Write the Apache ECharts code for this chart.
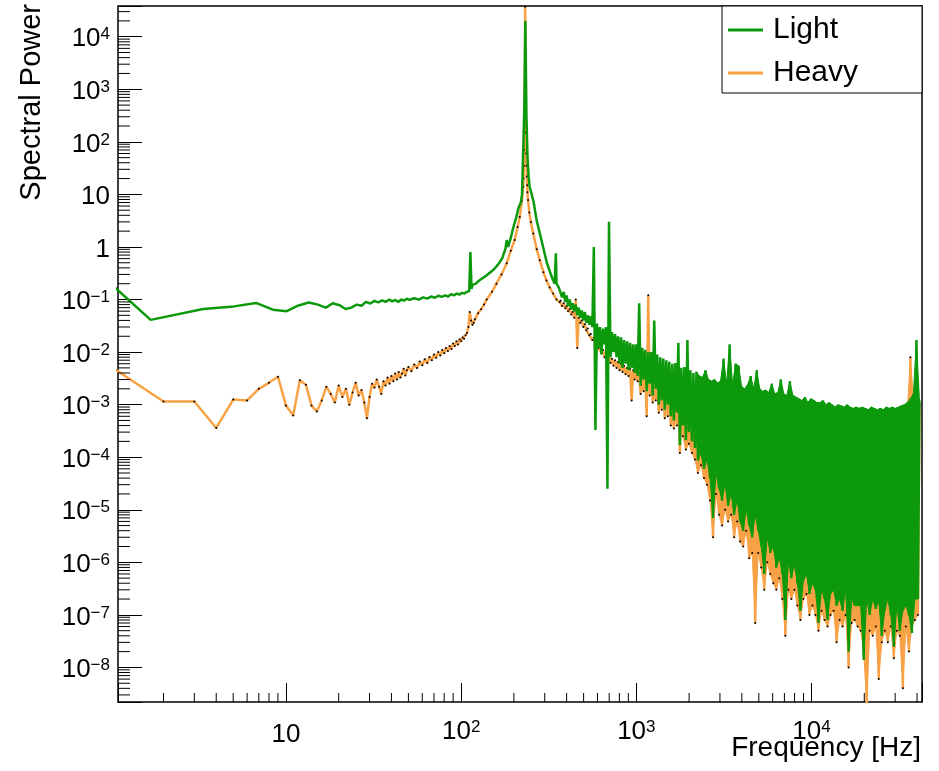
<!DOCTYPE html>
<html><head><meta charset="utf-8">
<script src="https://cdn.jsdelivr.net/npm/echarts@6.0.0/dist/echarts.min.js"></script>
<style>html,body{margin:0;padding:0;background:#fff}#c{width:939px;height:771px}</style>
</head><body><div id="c"></div>
<script>
// ---------------- data ----------------
const xRange = [1.1, 42700];
const yRange = [2.2e-9, 3.84e4];

const lightLowFreq = [1.0, 1.69, 3.37, 5.06, 6.74, 8.43, 10.1, 11.8, 13.5, 15.2, 16.9, 18.5, 20.2, 21.9, 23.6, 25.3, 27.0, 28.6, 30.3, 32.0, 33.7, 35.4, 37.1, 38.8, 40.4, 42.1, 43.8, 45.5, 47.2, 48.9, 50.6, 53.9, 57.3, 60.7, 64.0, 67.4, 70.8, 74.1, 77.5, 80.9, 84.2, 87.6, 91.0, 94.4, 97.7, 101.1, 104.5, 107.8, 111.2, 112.9, 114.6, 116.3, 118.0, 121.3, 124.7, 131.4, 138.2, 145.0, 151.7, 158.5, 165.2, 172.0, 175.3, 178.7, 182.0, 185.4, 192.1, 198.9, 205.6, 212.4, 219.1, 222.5, 225.8, 229.2, 232.6, 235.9, 239.3, 242.7, 246.0, 252.8, 259.5, 269.6, 281.4, 291.5, 308.4, 325.2, 335.3, 342.1, 347.1, 350.4, 360.5];
const lightLowPow = [0.2, 0.041, 0.066, 0.074, 0.086, 0.064, 0.06, 0.077, 0.088, 0.08, 0.07, 0.085, 0.078, 0.066, 0.07, 0.08, 0.076, 0.09, 0.084, 0.094, 0.088, 0.096, 0.09, 0.1, 0.092, 0.098, 0.09, 0.1, 0.095, 0.104, 0.098, 0.106, 0.1, 0.11, 0.104, 0.114, 0.108, 0.118, 0.112, 0.12, 0.114, 0.126, 0.12, 0.13, 0.124, 0.134, 0.13, 0.14, 0.145, 0.8, 0.16, 0.19, 0.2, 0.2, 0.22, 0.25, 0.28, 0.32, 0.36, 0.42, 0.5, 0.62, 0.76, 0.9, 1.35, 1.0, 1.5, 2.4, 3.5, 5.5, 7, 10, 60, 400, 2e4, 300, 50, 22, 14, 10, 7, 3.2, 1.8, 1.1, 0.5, 0.3, 0.23, 0.2, 0.76, 0.2, 0.17];

const heavyLowFreq = [1, 2, 3, 4, 5, 6, 7, 8, 9, 10, 11, 12, 13, 14, 15, 16, 17, 18, 19, 20, 21, 22, 23, 24, 25, 26, 27, 28, 29, 30, 31, 32, 33, 34, 35, 36, 37, 38, 39, 40, 41, 42, 43, 44, 45, 46, 47, 48, 49, 50,
  52, 54, 56, 58, 60, 62, 64, 66, 68, 70, 72, 74, 76, 78, 80, 82, 84, 86, 88, 90, 92, 94, 96, 98, 100, 102, 104, 106, 108, 110,
  112, 114, 116, 118, 120, 125, 130, 135, 140, 150, 159, 170, 182, 192, 202, 210, 216, 222, 226, 227, 228, 229, 230, 231, 232, 233, 234, 235, 236, 237, 238, 239, 241, 245, 250, 258, 270, 281, 295, 307, 320, 335, 350, 365];
const heavyLowPow = [5.3e-3, 1.15e-3, 1.15e-3, 3.6e-4, 1.25e-3, 1.2e-3, 2.0e-3, 2.6e-3, 3.4e-3, 9.6e-4,
  6.2e-4, 2.9e-3, 2.4e-3, 9.6e-4, 7.4e-4, 1.2e-3, 2.2e-3, 1.6e-3, 1.1e-3, 2.3e-3,
  1.4e-3, 2.0e-3, 1.0e-3, 1.7e-3, 2.6e-3, 1.5e-3, 1.9e-3, 1.1e-3, 5.5e-4, 1.4e-3,
  2.5e-3, 2.1e-3, 3.0e-3, 2.2e-3, 1.6e-3, 2.8e-3, 2.3e-3, 3.3e-3, 2.5e-3, 3.5e-3,
  2.8e-3, 3.9e-3, 3.0e-3, 4.2e-3, 3.3e-3, 3.9e-3, 4.8e-3, 3.6e-3, 4.5e-3, 5.2e-3,
  4.3e-3, 5.8e-3, 5.0e-3, 6.6e-3, 5.6e-3, 7.3e-3, 6.2e-3, 8.1e-3, 7.0e-3, 9.0e-3, 7.8e-3, 1.0e-2, 8.6e-3, 1.1e-2, 9.5e-3, 1.2e-2, 1.05e-2, 1.3e-2, 1.15e-2, 1.45e-2, 1.3e-2, 1.6e-2, 1.4e-2, 1.75e-2, 1.6e-2, 1.9e-2, 1.8e-2, 2.1e-2, 2.3e-2, 3.0e-2,
  5.8e-2, 4.0e-2, 3.3e-2, 3.6e-2, 4.2e-2, 5.5e-2, 6.5e-2, 8.0e-2, 0.1, 0.14, 0.2, 0.3, 0.49, 0.85, 1.35, 2.4, 3.7, 7.5, 14, 20, 35, 70, 200, 1500, 3.7e4, 2000, 150, 60, 35, 22, 15, 11, 7.8, 4.5, 3.0, 1.8, 0.9, 0.56, 0.33, 0.23, 0.17, 0.13, 0.1, 0.09];

const hfFreq = [370, 377, 385, 393, 400, 408, 417, 425, 433, 442,
  451, 460, 469, 479, 488, 498, 508, 518, 529, 539,
  550, 561, 572, 584, 596, 608, 620, 632, 645, 658,
  671, 684, 698, 712, 726, 741, 756, 771, 786, 802,
  818, 834, 851, 868, 886, 903, 921, 940, 959, 978,
  997, 1017, 1038, 1058, 1080, 1101, 1123, 1146, 1169, 1192,
  1216, 1240, 1265, 1290, 1316, 1343, 1370, 1397, 1425, 1453,
  1482, 1512, 1542, 1573, 1605, 1637, 1669, 1703, 1737, 1772,
  1807, 1843, 1880, 1918, 1956, 1995, 2035, 2076, 2117, 2160,
  2203, 2247, 2292, 2338, 2385, 2432, 2481, 2530, 2581, 2633,
  2685, 2739, 2794, 2850, 2907, 2965, 3024, 3085, 3146, 3209,
  3273, 3339, 3406, 3474, 3543, 3614, 3686, 3760, 3835, 3912,
  3990, 4070, 4152, 4235, 4319, 4406, 4494, 4584, 4675, 4769,
  4864, 4961, 5061, 5162, 5265, 5370, 5478, 5587, 5699, 5813,
  5929, 6048, 6169, 6292, 6418, 6546, 6677, 6811, 6947, 7086,
  7228, 7372, 7520, 7670, 7823, 7980, 8139, 8302, 8468, 8638,
  8810, 8987, 9166, 9350, 9537, 9727, 9922, 10120, 10323, 10529,
  10740, 10955, 11174, 11397, 11625, 11858, 12095, 12337, 12584, 12835,
  13092, 13354, 13621, 13893, 14171, 14455, 14744, 15039, 15339, 15646,
  15959, 16278, 16604, 16936, 17275, 17620, 17973, 18332, 18699, 19073,
  19454, 19843, 20240, 20645, 21058, 21479, 21909, 22347, 22794, 23250,
  23715, 24189, 24673, 25166, 25670, 26183, 26707, 27241, 27786, 28341,
  28908, 29486, 30076, 30678, 31291, 31917, 32556, 33207, 33871, 34548,
  35239, 35944, 36663, 37396, 38144, 38907, 39685, 40479, 41288];

const lightHFPow = [0.16, 0.11, 0.14, 0.09, 0.12, 0.075, 0.1, 0.065, 0.085, 0.06,
  0.08, 0.05, 0.07, 0.045, 0.062, 0.04, 0.058, 0.036, 0.05, 0.033,
  0.048, 0.03, 1.0, 3.3e-4, 0.035, 0.012, 0.03, 0.009, 0.028, 0.014,
  0.03, 2.5e-5, 3.0, 0.008, 0.024, 0.01, 0.022, 0.008, 0.02, 0.006,
  0.019, 5e-3, 0.017, 6e-3, 0.016, 4.5e-3, 0.015, 5e-3, 0.014, 4e-3,
  0.014, 3.5e-3, 0.085, 2.3e-3, 0.012, 3e-3, 0.011, 1.8e-3, 0.01, 2.5e-3,
  0.01, 1.5e-3, 0.04, 2e-3, 0.009, 1e-3, 0.008, 1.2e-3, 0.0075, 8e-4,
  0.007, 1e-3, 0.0065, 6e-4, 0.006, 5e-4, 0.0062, 7e-4, 0.015, 1.7e-4,
  0.005, 4e-4, 0.0052, 2.1e-4, 0.017, 3e-4, 0.0045, 2e-4, 0.004, 1.5e-4,
  0.0042, 8.7e-5, 0.0035, 1.2e-4, 0.0033, 6e-5, 0.0045, 9e-5, 0.003, 4e-5,
  0.0028, 7e-6, 0.003, 5e-5, 0.0026, 2.5e-5, 0.0028, 1.5e-5, 0.0075, 3e-5,
  0.0025, 1.2e-5, 0.014, 2e-5, 0.0024, 8e-6, 0.006, 1.5e-5, 0.0055, 6e-6,
  0.0022, 4e-6, 0.002, 1e-5, 0.0024, 5e-6, 0.0035, 3e-6, 0.002, 8e-6,
  0.0045, 4e-6, 0.002, 2e-6, 0.0018, 6e-7, 0.0019, 3e-6, 0.0017, 1.5e-6,
  0.0025, 2e-6, 0.0016, 8e-7, 0.0017, 1.2e-6, 0.003, 6e-7, 0.0016, 8e-8,
  0.0015, 1e-6, 0.0028, 5e-7, 0.0015, 9e-7, 0.0014, 4e-7, 0.0013, 1.2e-7,
  0.0012, 4.5e-7, 0.0014, 6e-7, 0.0011, 2.5e-7, 0.0013, 4e-7, 0.0012, 3e-7,
  0.0011, 7e-8, 0.0011, 3e-7, 0.0012, 2e-7, 0.001, 8e-8, 0.0011, 2.5e-7,
  0.001, 3e-7, 0.0009, 1.5e-7, 0.001, 2e-7, 0.00095, 1.2e-7, 0.0009, 3e-7,
  0.001, 2e-8, 0.0009, 2e-7, 0.00085, 1.5e-7, 0.0009, 1.5e-7, 0.00085, 1.5e-7,
  0.0009, 1.4e-8, 0.00085, 2e-7, 0.0008, 1e-7, 0.0009, 2e-7, 0.00085, 1.3e-7,
  0.0008, 1.8e-7, 0.00085, 4e-8, 0.0008, 1.2e-7, 0.0009, 2e-7, 0.00085, 1e-7,
  0.0009, 2.5e-8, 0.00085, 1.5e-7, 0.0009, 5e-8, 0.00095, 1.2e-7, 0.001, 1.5e-7,
  0.0011, 1e-7, 0.0013, 4.5e-8, 0.0016, 2e-7, 0.017, 2e-7, 0.0012];

const heavyHFPow = [0.095, 0.075, 0.085, 0.068, 0.075, 0.06, 0.066, 0.052, 0.058, 0.045,
  0.1, 0.012, 0.045, 0.036, 0.04, 0.03, 0.034, 0.026, 0.028, 0.021,
  0.022, 0.017, 0.019, 0.014, 0.016, 0.012, 0.013, 0.0095, 0.011, 0.008,
  0.0095, 0.007, 0.009, 0.0062, 0.0075, 0.0055, 0.007, 0.005, 0.0065, 0.0045,
  0.006, 0.0042, 0.0055, 0.0038, 0.005, 0.0035, 0.0048, 0.0012, 0.0045, 0.003,
  0.0042, 0.0028, 0.004, 0.0016, 0.0038, 0.0018, 0.0035, 0.0006, 0.12, 0.0015,
  0.0032, 0.0011, 0.003, 0.0012, 0.0028, 0.0007, 0.0026, 0.0008, 0.0024, 0.00055,
  0.0022, 0.0006, 0.002, 0.0004, 0.0019, 0.00035, 0.0018, 0.0004, 0.0017, 0.00012,
  0.0016, 0.00025, 0.0015, 0.00014, 0.0015, 0.00018, 0.0014, 0.00012, 0.0013, 9e-5,
  0.0013, 5e-5, 0.0012, 7e-5, 0.0012, 4e-5, 0.0012, 3e-5, 0.0011, 1.5e-5,
  0.0011, 3e-6, 0.0012, 2e-5, 0.001, 8e-6, 0.0011, 5e-6, 0.001, 1e-5,
  0.0012, 6e-6, 0.001, 8e-6, 0.0011, 3e-6, 0.001, 6e-6, 0.0012, 2.5e-6,
  0.0009, 2e-6, 0.001, 4e-6, 0.0009, 1.2e-6, 0.001, 1.5e-6, 0.0009, 7e-8,
  0.001, 1.5e-6, 0.0008, 8e-7, 0.0009, 3e-7, 0.0008, 1e-6, 0.0009, 6e-7,
  0.0008, 4e-7, 0.0007, 3e-7, 0.0008, 5e-7, 0.0009, 2e-7, 0.0007, 4e-8,
  0.0008, 3e-7, 0.0009, 2e-7, 0.0007, 3e-7, 0.0007, 1.5e-7, 0.0008, 8e-8,
  0.0006, 2e-7, 0.0007, 2.5e-7, 0.0006, 1e-7, 0.0007, 1.5e-7, 0.0006, 1e-7,
  0.0006, 5e-8, 0.0006, 1.2e-7, 0.0007, 8e-8, 0.0005, 6e-8, 0.0006, 1e-7,
  0.0005, 1.2e-7, 0.0006, 3e-8, 0.0005, 8e-8, 0.0005, 6e-8, 0.0006, 1e-7,
  0.0005, 1e-8, 0.0005, 7e-8, 0.0005, 8e-8, 0.0005, 6e-8, 0.0005, 5e-8,
  0.0005, 2e-8, 0.0005, 1.5e-9, 0.0005, 5e-8, 0.0005, 4e-8, 0.0005, 6e-8,
  0.0005, 6e-9, 0.0005, 3e-8, 0.0005, 5e-8, 0.0005, 3e-8, 0.0005, 6e-8,
  0.0005, 1.5e-8, 0.0005, 5e-8, 0.0006, 4e-8, 0.0006, 4e-9, 0.0006, 6e-8,
  0.0008, 2e-8, 0.008, 6e-8, 0.0012, 8e-8, 0.0015, 1e-7, 0.001];

// ---------------- chart ----------------
const GREEN = '#0c990c';
const ORANGE = '#f8a145';
const FONT = '"Liberation Sans", Arial, Helvetica, sans-serif';

function zip(fs, vs) { return fs.map((f, i) => [f, vs[i]]); }
const lightData = zip(lightLowFreq, lightLowPow).concat(zip(hfFreq, lightHFPow));
const heavyData = zip(heavyLowFreq, heavyLowPow).concat(zip(hfFreq, heavyHFPow));

// minor tick positions (2..9 x 10^k)
const xMinor = []; for (let k = 0; k <= 4; k++) for (let m = 2; m <= 9; m++) xMinor.push(m * Math.pow(10, k));
const yMinor = []; for (let k = -9; k <= 4; k++) for (let m = 2; m <= 9; m++) yMinor.push(m * Math.pow(10, k));

function expLabel(n, plainStyle) {
  if (n === 0) return '{' + plainStyle + '|1}';
  if (n === 1) return '{' + plainStyle + '|10}';
  return '{b|10}{s|' + (n < 0 ? '\u2212' + (-n) : String(n)) + '}';
}
const rich = {
  b: { fontSize: 26, fontFamily: FONT, color: '#000', lineHeight: 26, verticalAlign: 'bottom' },
  p: { fontSize: 26, fontFamily: FONT, color: '#000', lineHeight: 26, padding: [5, 0, 0, 0] },
  q: { fontSize: 26, fontFamily: FONT, color: '#000', lineHeight: 26 },
  s: { fontSize: 17, fontFamily: FONT, color: '#000', lineHeight: 17, verticalAlign: 'top', padding: [0, 0, 14, 0] }
};

// filled envelope of the dense part of a spectrum (tops = even samples, bottoms = odd samples)
function bandSeries(values, color, z, start) {
  return {
    type: 'custom', xAxisIndex: 0, yAxisIndex: 0, z: z, silent: true, clip: true, data: [[1000, 1e-3]],
    renderItem: function (params, api) {
      const cs = params.coordSys;
      const ymax = cs.y + cs.height + 2;
      const top = [], bot = [];
      for (let i = start; i < hfFreq.length; i++) {
        const pt = api.coord([hfFreq[i], values[i]]);
        pt[1] = Math.min(pt[1], ymax);
        (i % 2 === 0 ? top : bot).push(pt);
      }
      const pts = top.concat(bot.reverse());
      return { type: 'polygon', shape: { points: pts }, style: { fill: color, stroke: color, lineWidth: 1 } };
    }
  };
}

const chart = echarts.init(document.getElementById('c'), null, { renderer: 'canvas' });
chart.setOption({
  animation: false,
  backgroundColor: '#fff',
  textStyle: { fontFamily: FONT },
  grid: { left: 118, top: 6, right: 17, bottom: 69, show: true, borderColor: '#000', borderWidth: 1.5, backgroundColor: 'transparent' },
  legend: {
    left: 722, top: 6, orient: 'vertical', backgroundColor: '#fff', borderColor: '#000', borderWidth: 1, borderRadius: 0,
    padding: [9, 9, 5, 6], itemGap: 13, itemWidth: 35, itemHeight: 3, icon: 'rect', selectedMode: false,
    textStyle: { fontSize: 30, fontFamily: FONT, color: '#000', lineHeight: 30, width: 140, padding: [0, 0, 0, 5] },
    data: [{ name: 'Light', itemStyle: { color: GREEN } }, { name: 'Heavy', itemStyle: { color: ORANGE } }]
  },
  xAxis: [{
    type: 'log', logBase: 10, min: xRange[0], max: xRange[1], splitNumber: 5,
    axisLine: { show: false, onZero: false }, splitLine: { show: false },
    axisTick: { show: true, inside: true, length: 19, lineStyle: { color: '#000', width: 1 } },
    axisLabel: {
      margin: 17, rich: rich,
      formatter: function (v) {
        const n = Math.round(Math.log10(v));
        if (Math.abs(Math.log10(v) - n) > 1e-6) return '';
        return expLabel(n, 'p');
      }
    }
  }],
  yAxis: [{
    type: 'log', logBase: 10, min: yRange[0], max: yRange[1], show: false
  }, {
    type: 'value', position: 'left', min: Math.log10(yRange[0]), max: Math.log10(yRange[1]), splitNumber: 13,
    axisLine: { show: false, onZero: false }, splitLine: { show: false },
    axisTick: { show: true, inside: true, length: 24, lineStyle: { color: '#000', width: 1 } },
    axisLabel: {
      margin: 8, rich: rich, padding: [5, 0, 0, 0],
      formatter: function (v) {
        const n = Math.round(v);
        if (Math.abs(v - n) > 1e-6) return '';
        return expLabel(n, 'q');
      }
    }
  }],
  graphic: [
    { type: 'text', x: 32, y: 4, rotation: Math.PI / 2, silent: true,
      style: { text: 'Spectral Power', fontSize: 29, fontFamily: FONT, fill: '#000', align: 'right', verticalAlign: 'middle', textAlign: 'right', textVerticalAlign: 'middle' } },
    { type: 'text', x: 921, y: 748, silent: true,
      style: { text: 'Frequency [Hz]', fontSize: 28, fontFamily: FONT, fill: '#000', align: 'right', verticalAlign: 'middle', textAlign: 'right', textVerticalAlign: 'middle' } }
  ],
  series: [
    bandSeries(heavyHFPow, ORANGE, 1, 80),
    {
      name: 'Heavy', type: 'line', xAxisIndex: 0, yAxisIndex: 0, data: heavyData, z: 2, silent: true,
      symbol: 'circle', symbolSize: 2, showSymbol: true, showAllSymbol: true,
      itemStyle: { color: '#000' }, lineStyle: { color: ORANGE, width: 2.5 }, clip: true,
      emphasis: { disabled: true }
    },
    bandSeries(lightHFPow, GREEN, 3, 90),
    {
      name: 'Light', type: 'line', xAxisIndex: 0, yAxisIndex: 0, data: lightData, z: 4, silent: true,
      symbol: 'none', itemStyle: { color: GREEN }, lineStyle: { color: GREEN, width: 2.5 }, clip: true,
      emphasis: { disabled: true }
    },
    {
      type: 'custom', xAxisIndex: 0, yAxisIndex: 0, z: 5, silent: true, data: [[10, 1]],
      renderItem: function (params, api) {
        const cs = params.coordSys;
        const children = [];
        const yb = cs.y + cs.height;
        xMinor.forEach(function (v) {
          const px = api.coord([v, 1])[0];
          if (px > cs.x + 1 && px < cs.x + cs.width - 1) {
            children.push({ type: 'line', shape: { x1: px, y1: yb, x2: px, y2: yb - 9 }, style: { stroke: '#000', lineWidth: 1 } });
          }
        });
        yMinor.forEach(function (v) {
          const py = api.coord([10, v])[1];
          if (py > cs.y + 1 && py < cs.y + cs.height - 1) {
            children.push({ type: 'line', shape: { x1: cs.x, y1: py, x2: cs.x + 12, y2: py }, style: { stroke: '#000', lineWidth: 1 } });
          }
        });
        return { type: 'group', children: children };
      }
    }
  ]
});
</script>
</body></html>
